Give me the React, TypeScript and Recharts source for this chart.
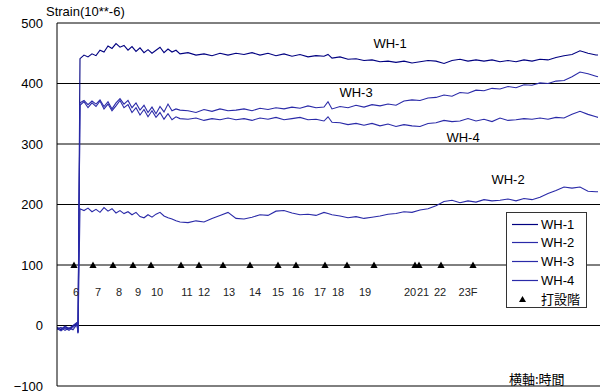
import React from 'react';
import { ComposedChart, Line, Scatter, XAxis, YAxis, CartesianGrid, Legend } from 'recharts';

// time axis (arbitrary time units)
const TIME = [
  0, 4, 8, 12, 16, 20, 21,
  23, 27, 31, 35, 39, 43, 47, 51, 55, 59, 63, 67, 71, 75, 79, 83, 87, 91, 95, 99, 103, 107, 111, 115, 119, 123,
  131, 139, 147, 155, 163, 171, 179, 187, 195, 203, 211, 219, 227, 235, 243, 251, 259, 267, 271, 275, 283, 291,
  299, 307, 315, 323, 331, 339, 347, 355, 363, 371, 379, 387, 395, 403, 411, 419, 427, 435, 443, 451, 459, 467,
  475, 483, 491, 499, 507, 515, 523, 531, 539, 541,
];

const WH1 = [
  -4, -7, -2, -6, -1, 4, -11,
  441, 447, 444, 449, 446, 455, 452, 462, 458, 466, 460, 463, 455, 461, 453, 459, 451, 456, 450, 455, 460, 451, 457, 452, 455, 449,
  451, 447, 449, 446, 450, 447, 450, 448, 451, 447, 450, 446, 449, 445, 448, 444, 446, 445,
  448,
  442, 444, 440, 441, 438, 439, 436, 437, 435, 437, 434, 436, 438, 437, 433, 438, 440, 437, 439, 437,
  439, 436, 438, 436, 439, 437, 440, 439, 443, 446, 448, 454, 450, 447,
  447,
];

const WH2 = [
  -6, -3, -8, -4, -7, 2, -12,
  193, 190, 194, 188, 192, 187, 195, 189, 193, 186, 190, 185, 188, 183, 187, 180, 178, 183, 179, 184, 187, 181, 178, 176, 173, 171,
  170, 173, 171, 177, 182, 187, 177, 176, 179, 183, 182, 189, 190, 186, 183, 184, 182, 187,
  185,
  183, 181, 178, 180, 177, 179, 181, 184, 185, 188, 187, 191, 193, 198, 205, 207, 203, 206, 204, 208,
  206, 207, 209, 206, 210, 208, 212, 218, 223, 229, 227, 229, 222, 221,
  221,
];

const WH3 = [
  -3, -6, -1, -5, 0, 5, -10,
  368, 372, 365, 371, 366, 373, 362, 370, 358, 368, 375, 366, 372, 360, 368, 356, 364, 352, 361, 350, 362, 353, 366, 355, 358, 356,
  355, 352, 357, 354, 358, 355, 356, 358, 355, 359, 357, 360, 358, 361, 359, 363, 360, 361,
  370,
  358, 362, 360, 364, 361, 365, 363, 366, 364, 371, 373, 372, 376, 377, 381, 379, 385, 384, 389, 388,
  392, 391, 395, 393, 398, 397, 401, 400, 404, 405, 411, 419, 416, 412,
  411,
];

const WH4 = [
  -5, -9, -4, -8, -3, 3, -13,
  364, 370, 360, 368, 362, 371, 358, 366, 355, 363, 372, 360, 365, 352, 360, 348, 357, 345, 355, 344, 352, 341, 350, 340, 345, 342,
  341, 343, 339, 342, 340, 343, 340, 342, 339, 343, 341, 344, 340, 342, 344, 340, 341, 338,
  345,
  336, 335, 332, 334, 331, 334, 330, 333, 329, 332, 330, 329, 334, 335, 339, 337, 338, 342, 338, 341,
  337, 343, 339, 340, 342, 341, 343, 341, 344, 343, 349, 354, 349, 345,
  344,
];

const SERIES = [
  { key: 'wh1', name: 'WH-1', values: WH1, color: '#000080' },
  { key: 'wh2', name: 'WH-2', values: WH2, color: '#2a2aa8' },
  { key: 'wh3', name: 'WH-3', values: WH3, color: '#2a2aa8' },
  { key: 'wh4', name: 'WH-4', values: WH4, color: '#2a2aa8' },
];

// pouring events (打設階)
const POUR_TIMES = [17, 36, 56, 76, 94, 124, 142, 166, 193, 221, 239, 268, 290, 317, 358, 362, 384, 416];
const POUR_LEVEL = 100;
const FLOOR_LABELS = ['6', '7', '8', '9', '10', '11', '12', '13', '14', '15', '16', '17', '18', '19', '20', '21', '22', '23F'];
const FLOOR_LABEL_TIMES = [19, 41, 62, 81, 100, 130, 147, 172, 198, 221, 241, 263, 281, 308, 353, 366, 383, 411];
const FLOOR_LABEL_LEVEL = 55;

const SERIES_LABEL_TEXT = ['WH-1', 'WH-3', 'WH-4', 'WH-2'];
const SERIES_LABEL_TIMES = [333, 299, 406, 451];
const SERIES_LABEL_VALUES = [466, 385, 311, 241];

const Y_TICKS = [-100, 0, 100, 200, 300, 400, 500];

const data = TIME.map((t, i) => {
  const row: Record<string, number> = { t };
  SERIES.forEach((s) => {
    row[s.key] = s.values[i];
  });
  return row;
});
const pourData = POUR_TIMES.map((t) => ({ t, v: POUR_LEVEL }));
const floorLabelData = FLOOR_LABEL_TIMES.map((t, i) => ({ t, v: FLOOR_LABEL_LEVEL, text: FLOOR_LABELS[i] }));
const seriesLabelData = SERIES_LABEL_TIMES.map((t, i) => ({ t, v: SERIES_LABEL_VALUES[i], text: SERIES_LABEL_TEXT[i] }));

const FONT = '"Liberation Sans", Arial, "Noto Sans CJK JP", sans-serif';

const Triangle = (props: any) => {
  const { cx, cy } = props;
  if (cx == null || cy == null) return null;
  return <path d={`M${cx},${cy - 3.5} L${cx + 3.6},${cy + 3} L${cx - 3.6},${cy + 3} Z`} fill="#000" />;
};

const makeTextShape = (size: number, fill: string) => (props: any) => {
  const { cx, cy, payload } = props;
  if (cx == null || cy == null) return null;
  return (
    <text x={cx} y={cy} textAnchor="middle" dominantBaseline="central" fontSize={size} fill={fill} fontFamily={FONT}>
      {payload.text}
    </text>
  );
};

const FloorText = makeTextShape(11, '#222');
const SeriesText = makeTextShape(13, '#000');

const CustomLegend = () => {
  const rows = [
    ...SERIES.map((s) => ({ name: s.name, color: s.color, type: 'line' })),
    { name: '打設階', color: '#000', type: 'triangle' },
  ];
  return (
    <div
      style={{
        position: 'relative',
        width: 81,
        height: 96,
        boxSizing: 'border-box',
        border: '1px solid #333',
        background: '#fff',
        fontFamily: FONT,
        fontSize: 13,
        color: '#000',
      }}
    >
      {rows.map((r, i) => (
        <div
          key={r.name}
          style={{
            position: 'absolute',
            left: 4,
            top: 1.5 + i * 18.8,
            height: 19,
            display: 'flex',
            alignItems: 'center',
            whiteSpace: 'nowrap',
          }}
        >
          <svg width={28} height={19} style={{ display: 'block' }}>
            {r.type === 'line' ? (
              <line x1={1} y1={9.5} x2={27} y2={9.5} stroke={r.color} strokeWidth={1.2} />
            ) : (
              <path d="M11.5,6 L15,12 L8,12 Z" fill="#000" />
            )}
          </svg>
          <span style={{ marginLeft: 2, lineHeight: '19px' }}>{r.name}</span>
        </div>
      ))}
    </div>
  );
};

export default function App() {
  return (
    <div style={{ position: 'absolute', left: 0, top: 0, width: 602, height: 391, background: '#fff', fontFamily: FONT }}>
      <ComposedChart
        width={602}
        height={391}
        data={data}
        margin={{ top: 23, right: 2, bottom: 5, left: 0 }}
      >
        <CartesianGrid horizontal vertical={false} stroke="#000" strokeOpacity={1} />
        <XAxis dataKey="t" type="number" domain={[0, 543]} allowDataOverflow hide />
        <YAxis
          type="number"
          domain={[-100, 500]}
          ticks={Y_TICKS}
          interval={0}
          width={57}
          tickSize={0}
          tickMargin={14}
          tickLine={false}
          axisLine={{ stroke: '#000' }}
          tick={{ fill: '#000', fontSize: 13, fontFamily: FONT }}
          tickFormatter={(v: number) => String(v).replace('-', '−')}
        />
        {SERIES.map((s) => (
          <Line
            key={s.key}
            type="linear"
            dataKey={s.key}
            name={s.name}
            stroke={s.color}
            strokeWidth={1.1}
            dot={false}
            activeDot={false}
            isAnimationActive={false}
          />
        ))}
        <Scatter data={pourData} dataKey="v" name="打設階" shape={Triangle} isAnimationActive={false} legendType="none" />
        <Scatter data={floorLabelData} dataKey="v" shape={FloorText} isAnimationActive={false} legendType="none" />
        <Scatter data={seriesLabelData} dataKey="v" shape={SeriesText} isAnimationActive={false} legendType="none" />
        <Legend
          layout="vertical"
          align="center"
          verticalAlign="middle"
          content={() => <CustomLegend />}
          wrapperStyle={{ left: 506, top: 212, width: 81, height: 96 }}
        />
      </ComposedChart>
      <div style={{ position: 'absolute', left: 46, top: 4, fontSize: 13, lineHeight: '16px', color: '#000', whiteSpace: 'nowrap' }}>
        Strain(10**-6)
      </div>
      <div style={{ position: 'absolute', left: 509, top: 370, fontSize: 13, lineHeight: '18px', color: '#000', whiteSpace: 'nowrap', fontFamily: '"Noto Sans CJK JP", sans-serif' }}>
        横軸:時間
      </div>
    </div>
  );
}
